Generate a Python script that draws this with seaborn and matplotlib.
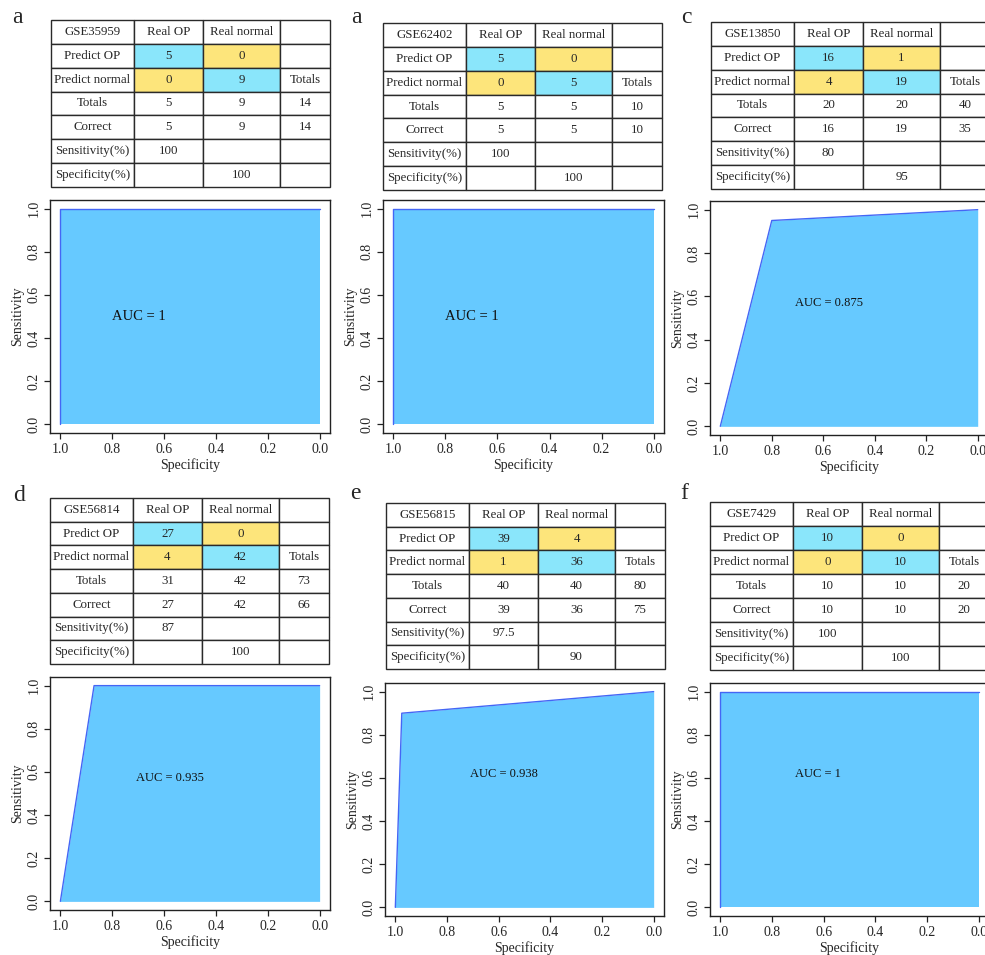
import numpy as np
import pandas as pd
import matplotlib
matplotlib.use("Agg")
import matplotlib.pyplot as plt
import seaborn as sns

# ---- data -------------------------------------------------------------
panel_letters = ["a", "a", "c", "d", "e", "f"]
datasets = ["GSE35959", "GSE62402", "GSE13850", "GSE56814", "GSE56815", "GSE7429"]

# confusion counts: [pred OP & real OP, pred OP & real normal,
#                    pred normal & real OP, pred normal & real normal]
confusion = [
    [5, 0, 0, 9],
    [5, 0, 0, 5],
    [16, 1, 4, 19],
    [27, 0, 4, 42],
    [39, 4, 1, 36],
    [10, 0, 0, 10],
]
totals = [[5, 9, 14], [5, 5, 10], [20, 20, 40], [31, 42, 73], [40, 40, 80], [10, 10, 20]]
correct = [[5, 9, 14], [5, 5, 10], [16, 19, 35], [27, 42, 66], [39, 36, 75], [10, 10, 20]]
sensitivity_pct = ["100", "100", "80", "87", "97.5", "100"]
specificity_pct = ["100", "100", "95", "100", "90", "100"]

# ROC curve points (specificity, sensitivity)
roc_spec = [
    [1.0, 1.0, 0.0],
    [1.0, 1.0, 0.0],
    [1.0, 0.8, 0.0],
    [1.0, 0.87, 0.0],
    [1.0, 0.975, 0.0],
    [1.0, 1.0, 0.0],
]
roc_sens = [
    [0.0, 1.0, 1.0],
    [0.0, 1.0, 1.0],
    [0.0, 0.95, 1.0],
    [0.0, 1.0, 1.0],
    [0.0, 0.9, 1.0],
    [0.0, 1.0, 1.0],
]
auc_labels = ["AUC = 1", "AUC = 1", "AUC = 0.875", "AUC = 0.935", "AUC = 0.938", "AUC = 1"]
auc_pos = [(0.80, 0.50), (0.80, 0.50), (0.71, 0.57), (0.71, 0.57), (0.71, 0.62), (0.71, 0.62)]
auc_size = [10.5, 10.5, 9, 9, 9, 9]

# ---- layout (pixel boxes: left, top, right, bottom) -------------------
W, H = 985, 955
table_boxes = [
    (51, 20, 330, 187),
    (383, 23, 662, 190),
    (711, 22, 990, 189),
    (50, 498, 329, 664),
    (386, 503, 665, 669),
    (710, 502, 989, 670),
]
roc_boxes = [
    (50, 200, 330, 433),
    (383, 200, 664, 433),
    (710, 201, 988, 435),
    (50, 677, 330, 910),
    (385, 683, 664, 916),
    (710, 683, 989, 916),
]
letter_pos = [(17, 23), (356, 23), (686, 23), (19, 501), (355, 499), (684, 499)]

col_widths = np.array([83, 69, 77, 50], dtype=float)
col_widths /= col_widths.sum()

CYAN = "#8ae6fb"
YELLOW = "#fde57b"
FILL = "#66c9ff"
LINE = "#4466f5"
EDGE = "#2a2a2a"

sns.set_theme(style="ticks")
plt.rcParams["font.family"] = ["Liberation Serif", "DejaVu Serif"]
plt.rcParams["axes.linewidth"] = 1.0
plt.rcParams["axes.edgecolor"] = "#222222"

fig = plt.figure(figsize=(W / 100, H / 100), dpi=100)


def px_axes(box):
    x0, y0, x1, y1 = box
    return fig.add_axes([x0 / W, 1 - y1 / H, (x1 - x0) / W, (y1 - y0) / H])


for i in range(6):
    # confusion table
    tp, fp, fn, tn = confusion[i]
    cells = [
        [datasets[i], "Real OP", "Real normal", ""],
        ["Predict OP", str(tp), str(fp), ""],
        ["Predict normal", str(fn), str(tn), "Totals"],
        ["Totals"] + [str(v) for v in totals[i]],
        ["Correct"] + [str(v) for v in correct[i]],
        ["Sensitivity(%)", sensitivity_pct[i], "", ""],
        ["Specificity(%)", "", specificity_pct[i], ""],
    ]
    colours = [["white"] * 4 for _ in range(7)]
    colours[1][1] = CYAN
    colours[1][2] = YELLOW
    colours[2][1] = YELLOW
    colours[2][2] = CYAN

    tax = px_axes(table_boxes[i])
    tax.axis("off")
    tbl = tax.table(cellText=cells, cellColours=colours, cellLoc="center",
                    colWidths=list(col_widths), bbox=[0, 0, 1, 1])
    tbl.auto_set_font_size(False)
    tbl.set_fontsize(9.3)
    for cell in tbl.get_celld().values():
        cell.set_edgecolor(EDGE)
        cell.set_linewidth(1.0)

    # ROC curve
    ax = px_axes(roc_boxes[i])
    df = pd.DataFrame({"Specificity": roc_spec[i], "Sensitivity": roc_sens[i]})
    ax.fill_between(df["Specificity"], df["Sensitivity"], 0, color=FILL, lw=0)
    sns.lineplot(data=df, x="Specificity", y="Sensitivity", sort=False,
                 color=LINE, lw=1.0, ax=ax, estimator=None)
    ax.set_xlim(1.04, -0.04)
    ax.set_ylim(-0.04, 1.04)
    ticks = [1.0, 0.8, 0.6, 0.4, 0.2, 0.0]
    ax.set_xticks(ticks)
    ax.set_xticklabels([f"{t:.1f}" for t in ticks])
    ax.set_yticks(ticks)
    ax.set_yticklabels([f"{t:.1f}" for t in ticks], rotation=90, va="center")
    ax.tick_params(axis="both", direction="out", length=4.5, width=0.9,
                   labelsize=10, color="#222222", pad=2.5)
    ax.set_xlabel("Specificity", fontsize=10, labelpad=2)
    ax.set_ylabel("Sensitivity", fontsize=10, labelpad=2)
    for s in ax.spines.values():
        s.set_visible(True)
        s.set_linewidth(1.0)
    ax.text(auc_pos[i][0], auc_pos[i][1], auc_labels[i], fontsize=auc_size[i],
            ha="left", va="center", color="#111111")

    # panel letter
    lx, ly = letter_pos[i]
    fig.text(lx / W, 1 - ly / H, panel_letters[i], fontsize=17,
             ha="center", va="baseline")

fig.savefig("out.png", dpi=100, facecolor="white")
